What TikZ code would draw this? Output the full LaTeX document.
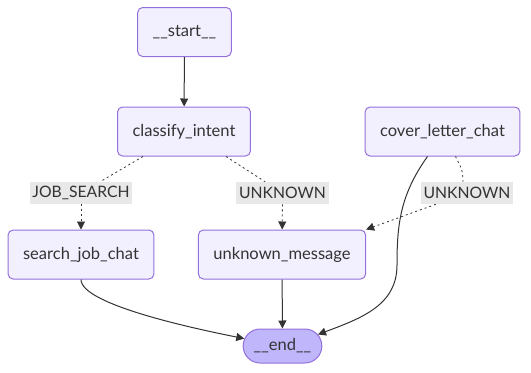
\documentclass[tikz,border=0pt]{standalone}
\usepackage{fontspec}
\setmainfont{Lato}
\usetikzlibrary{calc,arrows.meta,shapes.misc}

\definecolor{nodefill}{HTML}{F2F0FF}
\definecolor{nodeline}{HTML}{9370DB}
\definecolor{endfill}{HTML}{BFB6FC}
\definecolor{edgecol}{HTML}{333333}
\definecolor{labelfill}{HTML}{E8E8E8}

\tikzset{
  state/.style={draw=nodeline, fill=nodefill, rounded corners=3.75pt, line width=0.75pt,
    minimum height=36.75pt, inner xsep=11.25pt, text=edgecol, font=\fontsize{12.4}{14}\selectfont},
  edgelabel/.style={fill=labelfill, inner xsep=2pt, inner ysep=0pt, minimum height=16.5pt,
    text=edgecol, font=\fontsize{11.8}{14}\selectfont},
  flow/.style={-{Triangle[length=6pt,width=6pt]}, line width=0.75pt, edgecol},
  cond/.style={line width=0.6pt, edgecol, dash pattern=on 1.5pt off 2.25pt},
  arr/.style={-{Triangle[length=6pt,width=6pt]}},
}

\begin{document}
\begin{tikzpicture}[x=0.75pt, y=-0.75pt]
\useasboundingbox (0, 0) rectangle (531, 372);

\node [state] (start) at (184.5, 32) {\_\_start\_\_};
\node [state] (classify) at (184, 131.5) {classify\_intent};
\node [state] (cover) at (442.5, 131.5) {cover\_letter\_chat};
\node [state] (search) at (81, 254.5) {search\_job\_chat};
\node [state] (unknown) at (282, 254.5) {unknown\_message};
\node [state, rounded rectangle, sharp corners, fill=endfill, minimum height=25.5pt,
  minimum width=63pt, inner xsep=2pt] (finish) at (282.5, 346) {\_\_end\_\_};

\node [edgelabel] (jobsearch) at (81, 193) {JOB\_SEARCH};
\node [edgelabel] (unknownA) at (282.5, 193) {UNKNOWN};
\node [edgelabel] (unknownB) at (467, 193) {UNKNOWN};

\draw [flow] (start) -- (classify);

\draw [cond] ($(classify.south)+(-41, 0)$) -- (jobsearch);
\draw [cond, arr] (jobsearch) -- (search);
\draw [cond] ($(classify.south)+(42, 0)$) -- (unknownA);
\draw [cond, arr] (unknownA) -- (unknown);
\draw [cond] ($(cover.south)+(13, 0)$) .. controls +(5, 10) and +(0, -12) .. ($(unknownB.north)+(-4, 0)$);
\draw [cond, arr] (unknownB) -- (unknown.north east);

\draw [flow] (unknown) -- (finish);
\draw [flow] (search.south) .. controls +(0, 25) and +(-50, -10) .. (finish.169);
\draw [flow] ($(cover.south)+(-15, 0)$) .. controls (400, 195) and (397, 225) .. (397, 265)
  .. controls (397, 305) and (362, 318) .. (finish.18);
\end{tikzpicture}
\end{document}
